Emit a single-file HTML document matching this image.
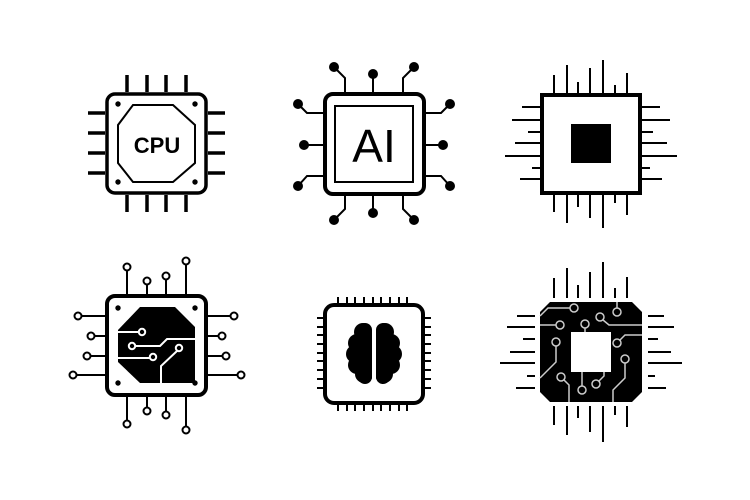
<!DOCTYPE html>
<html><head><style>html,body{margin:0;padding:0;background:#fff}svg{display:block}</style></head>
<body>
<svg width="750" height="500" viewBox="0 0 750 500" xmlns="http://www.w3.org/2000/svg">
<rect width="750" height="500" fill="#fff"/>
<!-- CPU -->
<g stroke="#000" stroke-width="3.5" fill="none">
<path d="M127,75V92M147,75V92M166,75V92M186,75V92M127,195V212M147,195V212M166,195V212M186,195V212M88,113H105M88,133H105M88,153H105M88,173H105M208,113H225M208,133H225M208,153H225M208,173H225"/>
<rect x="107" y="94" width="99" height="99" rx="8"/>
</g>
<polygon points="133,105 173,105 195,125 195,163 173,182 133,182 118,163 118,125" fill="none" stroke="#000" stroke-width="2"/>
<g fill="#000"><circle cx="118" cy="104" r="2.7"/><circle cx="195" cy="104" r="2.7"/><circle cx="118" cy="182" r="2.7"/><circle cx="195" cy="182" r="2.7"/></g>
<text x="157" y="153" font-family="Liberation Sans, sans-serif" font-weight="bold" font-size="22" text-anchor="middle">CPU</text>
<!-- AI -->
<g stroke="#000" stroke-width="2" fill="none">
<path d="M345,92V78L334,67M373,92V74M403,92V78L414,67M345,195V209L334,220M373,195V213M403,195V209L414,220M323,113H307L298,104M323,145H304M323,176H307L298,186M425,113H441L450,104M425,145H443M425,176H441L450,186"/>
<rect x="335" y="106" width="78" height="76" stroke-width="2"/>
</g>
<rect x="325" y="94" width="99" height="100" rx="8" fill="none" stroke="#000" stroke-width="4"/>
<g fill="#000"><circle cx="334" cy="67" r="5"/><circle cx="373" cy="74" r="5"/><circle cx="414" cy="67" r="5"/><circle cx="334" cy="220" r="5"/><circle cx="373" cy="213" r="5"/><circle cx="414" cy="220" r="5"/><circle cx="298" cy="104" r="5"/><circle cx="304" cy="145" r="5"/><circle cx="298" cy="186" r="5"/><circle cx="450" cy="104" r="5"/><circle cx="443" cy="145" r="5"/><circle cx="450" cy="186" r="5"/></g>
<text x="374" y="162" font-family="Liberation Sans, sans-serif" font-size="46" text-anchor="middle">AI</text>
<!-- chip 3 -->
<g stroke="#000" stroke-width="2">
<path d="M554,75V93M567,65V93M578,82V93M590,68V93M603,60V93M615,85V93M627,73V93M554,195V212M567,195V223M578,195V207M590,195V218M603,195V228M615,195V203M627,195V215M522,107H540M512,120H540M528,132H540M515,143H540M505,156H540M532,168H540M520,179H540M642,107H660M642,120H670M642,132H653M642,143H667M642,156H677M642,168H650M642,179H662"/>
</g>
<rect x="542" y="95" width="98" height="98" fill="none" stroke="#000" stroke-width="4"/>
<rect x="571" y="124" width="40" height="39" fill="#000"/>
<!-- chip 4 -->
<g stroke="#000" stroke-width="2" fill="#fff">
<path d="M127,294V271M147,294V285M166,294V280M186,294V265M127,397V420M147,397V407M166,397V411M186,397V426M105,316H82M105,336H95M105,356H91M105,375H77M208,316H230M208,336H218M208,356H222M208,375H237" fill="none"/>
<circle cx="127" cy="267" r="3.5"/><circle cx="147" cy="281" r="3.5"/><circle cx="166" cy="276" r="3.5"/><circle cx="186" cy="261" r="3.5"/>
<circle cx="127" cy="424" r="3.5"/><circle cx="147" cy="411" r="3.5"/><circle cx="166" cy="415" r="3.5"/><circle cx="186" cy="430" r="3.5"/>
<circle cx="78" cy="316" r="3.5"/><circle cx="91" cy="336" r="3.5"/><circle cx="87" cy="356" r="3.5"/><circle cx="73" cy="375" r="3.5"/>
<circle cx="234" cy="316" r="3.5"/><circle cx="222" cy="336" r="3.5"/><circle cx="226" cy="356" r="3.5"/><circle cx="241" cy="375" r="3.5"/>
</g>
<rect x="107" y="296" width="99" height="99" rx="8" fill="none" stroke="#000" stroke-width="4"/>
<polygon points="140,307 175,307 195,327 195,383 140,383 118,362 118,330" fill="#000"/>
<g fill="#000"><circle cx="118" cy="308" r="2.7"/><circle cx="195" cy="308" r="2.7"/><circle cx="118" cy="383" r="2.7"/><circle cx="195" cy="383" r="2.7"/></g>
<g stroke="#fff" stroke-width="2" fill="#000">
<path d="M118,332H139M135,346H160L167,339H195M118,358H150M177,351L161,366V383" fill="none"/>
<circle cx="142" cy="332" r="3.2"/><circle cx="132" cy="346" r="3.2"/><circle cx="153" cy="357" r="3.2"/><circle cx="179" cy="348" r="3.2"/>
</g>
<!-- brain chip -->
<g stroke="#000" stroke-width="2">
<path d="M338,297V303M347,297V303M355,297V303M364,297V303M373,297V303M381,297V303M390,297V303M399,297V303M407,297V303M338,405V411M347,405V411M355,405V411M364,405V411M373,405V411M381,405V411M390,405V411M399,405V411M407,405V411M317,318H323M317,327H323M317,335H323M317,344H323M317,353H323M317,361H323M317,370H323M317,379H323M317,388H323M425,318H431M425,327H431M425,335H431M425,344H431M425,353H431M425,361H431M425,370H431M425,379H431M425,388H431"/>
</g>
<rect x="325" y="305" width="98" height="98" rx="9" fill="#fff" stroke="#000" stroke-width="4"/>
<g fill="#000">
<rect x="358" y="323" width="14" height="61" rx="7"/>
<circle cx="363" cy="332" r="9"/><circle cx="357" cy="343" r="9"/><circle cx="355" cy="354" r="9"/><circle cx="357" cy="365" r="9"/><circle cx="364" cy="374" r="9"/>
<rect x="376" y="323" width="14" height="61" rx="7"/>
<circle cx="385" cy="332" r="9"/><circle cx="391" cy="343" r="9"/><circle cx="393" cy="354" r="9"/><circle cx="391" cy="365" r="9"/><circle cx="384" cy="374" r="9"/>
</g>
<rect x="372" y="320" width="4" height="66" fill="#fff"/>
<!-- chip 6 -->
<g stroke="#000" stroke-width="2">
<path d="M554,278V298M567,268V298M578,285V298M590,272V298M603,262V298M615,288V298M627,277V298M554,406V425M567,406V435M578,406V418M590,406V432M603,406V442M615,406V415M627,406V427M517,316H535M507,327H535M523,339H535M510,352H535M500,363H535M527,376H535M516,388H535M648,316H664M648,327H674M648,339H658M648,352H671M648,363H682M648,376H655M648,388H666"/>
</g>
<polygon points="550,302 632,302 642,312 642,392 632,402 550,402 540,392 540,312" fill="#000"/>
<rect x="571" y="332" width="40" height="40" fill="#fff"/>
<g stroke="#ccc" stroke-width="1.5" fill="#000">
<path d="M570,308H548L540,316M556,325H540M585,328V332M603,320L609,325H642M617,308V302M620,340L625,335H642M556,346V362L540,378M625,363V378L613,390V402M564,380L569,385V402M582,386V372M599,381L604,376V372" fill="none"/>
<circle cx="574" cy="308" r="4"/><circle cx="560" cy="325" r="4"/><circle cx="585" cy="324" r="4"/><circle cx="600" cy="317" r="4"/><circle cx="617" cy="312" r="4"/><circle cx="617" cy="343" r="4"/><circle cx="556" cy="342" r="4"/><circle cx="625" cy="359" r="4"/><circle cx="561" cy="377" r="4"/><circle cx="582" cy="390" r="4"/><circle cx="596" cy="384" r="4"/>
</g>
</svg>
</body></html>
